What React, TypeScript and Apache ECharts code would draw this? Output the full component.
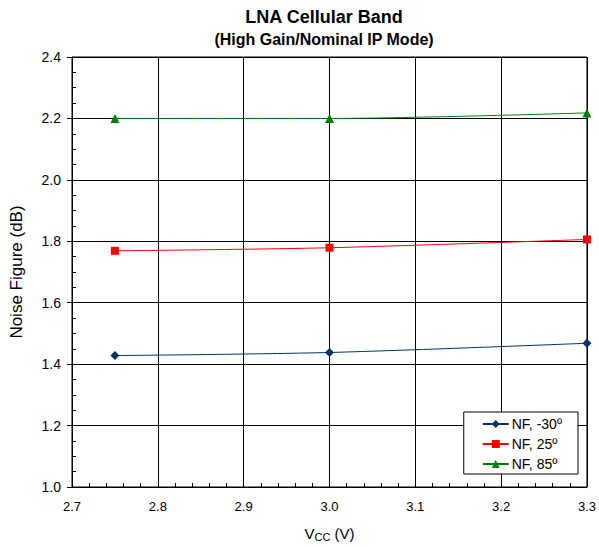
import React, { useEffect, useRef } from "react";
import * as echarts from "echarts";

const xValues = [2.75, 3.0, 3.3];
const nfMinus30 = [1.428, 1.438, 1.468];
const nf25 = [1.769, 1.779, 1.806];
const nf85 = [2.2, 2.2, 2.218];
const seriesNames = ["NF, -30º", "NF, 25º", "NF, 85º"];
const titleText = "LNA Cellular Band";
const subtitleText = "(High Gain/Nominal IP Mode)";
const yAxisTitle = "Noise Figure (dB)";

const font = "Arial, 'Liberation Sans', sans-serif";

export default function App() {
  const ref = useRef<HTMLDivElement>(null);
  useEffect(() => {
    if (!ref.current) return;
    const chart = echarts.init(ref.current, undefined, { renderer: "svg" });
    const mk = (vals: number[]) => xValues.map((x, i) => [x, vals[i]]);
    const yCommon = { type: "value", min: 1.0, max: 2.4, interval: 0.2 };
    chart.setOption({
      animation: false,
      backgroundColor: "#fff",
      title: [
        {
          text: titleText,
          left: 324,
          top: 8,
          padding: 0,
          textAlign: "center",
          textStyle: { fontFamily: font, fontSize: 18, fontWeight: "bold", color: "#000" },
        },
        {
          text: subtitleText,
          left: 324,
          top: 31,
          padding: 0,
          textAlign: "center",
          textStyle: { fontFamily: font, fontSize: 16, fontWeight: "bold", color: "#000" },
        },
      ],
      grid: { left: 72, right: 10, top: 57, bottom: 59, show: true, borderColor: "#000", borderWidth: 1 },
      legend: {
        orient: "vertical",
        right: 21,
        top: 412,
        backgroundColor: "#fff",
        borderColor: "#000",
        borderWidth: 1,
        padding: [5, 16, 3, 18],
        itemGap: 6,
        itemWidth: 26,
        itemHeight: 10,
        textStyle: { fontFamily: font, fontSize: 14, color: "#000", padding: [0, 0, 0, -2] },
        data: seriesNames,
      },
      xAxis: {
        type: "value",
        min: 2.7,
        max: 3.3,
        interval: 0.1,
        name: "{a|V}{b|CC}{a| (V)}",
        nameLocation: "middle",
        nameGap: 37,
        nameTextStyle: {
          rich: {
            a: { fontFamily: font, fontSize: 15, color: "#000" },
            b: { fontFamily: font, fontSize: 11, color: "#000", verticalAlign: "bottom", padding: [7, 0, 0, 0] },
          },
        },
        axisLine: { show: true, lineStyle: { color: "#000", width: 1 } },
        axisTick: { show: true, inside: true, length: 5, lineStyle: { color: "#000" } },
        minorTick: { show: true, splitNumber: 5, length: 4, lineStyle: { color: "#000" } },
        axisLabel: {
          fontFamily: font,
          fontSize: 13,
          color: "#000",
          margin: 13,
          formatter: (v: number) => v.toFixed(1),
        },
        splitLine: { show: true, lineStyle: { color: "#000", width: 1 } },
      },
      yAxis: [
        {
          ...yCommon,
          name: yAxisTitle,
          nameLocation: "middle",
          nameGap: 47,
          nameTextStyle: { fontFamily: font, fontSize: 17, color: "#000" },
          axisLine: { show: true, lineStyle: { color: "#000", width: 1 } },
          axisTick: { show: true, inside: false, length: 5, lineStyle: { color: "#000" } },
          axisLabel: {
            fontFamily: font,
            fontSize: 14,
            color: "#000",
            margin: 11,
            formatter: (v: number) => v.toFixed(1),
          },
          splitLine: { show: true, lineStyle: { color: "#000", width: 1 } },
        },
        {
          ...yCommon,
          position: "left",
          offset: 0,
          axisLine: { show: false },
          axisTick: { show: false, inside: true },
          minorTick: { show: true, splitNumber: 4, length: 4, lineStyle: { color: "#000" } },
          axisLabel: { show: false },
          splitLine: { show: false },
        },
      ],
      series: [
        {
          name: seriesNames[0],
          type: "line",
          data: mk(nfMinus30),
          smooth: 0.3,
          symbol: "diamond",
          symbolSize: 9,
          itemStyle: { color: "#003366" },
          lineStyle: { color: "#003366", width: 1 },
        },
        {
          name: seriesNames[1],
          type: "line",
          data: mk(nf25),
          smooth: 0.3,
          symbol: "rect",
          symbolSize: 8,
          itemStyle: { color: "#ff0000" },
          lineStyle: { color: "#ff0000", width: 1 },
        },
        {
          name: seriesNames[2],
          type: "line",
          data: mk(nf85),
          smooth: 0.3,
          symbol: "triangle",
          symbolSize: 9,
          itemStyle: { color: "#008000" },
          lineStyle: { color: "#008000", width: 1 },
        },
      ],
    });
    return () => chart.dispose();
  }, []);
  return <div ref={ref} style={{ position: "fixed", left: 0, top: 0, width: 599, height: 547 }} />;
}
